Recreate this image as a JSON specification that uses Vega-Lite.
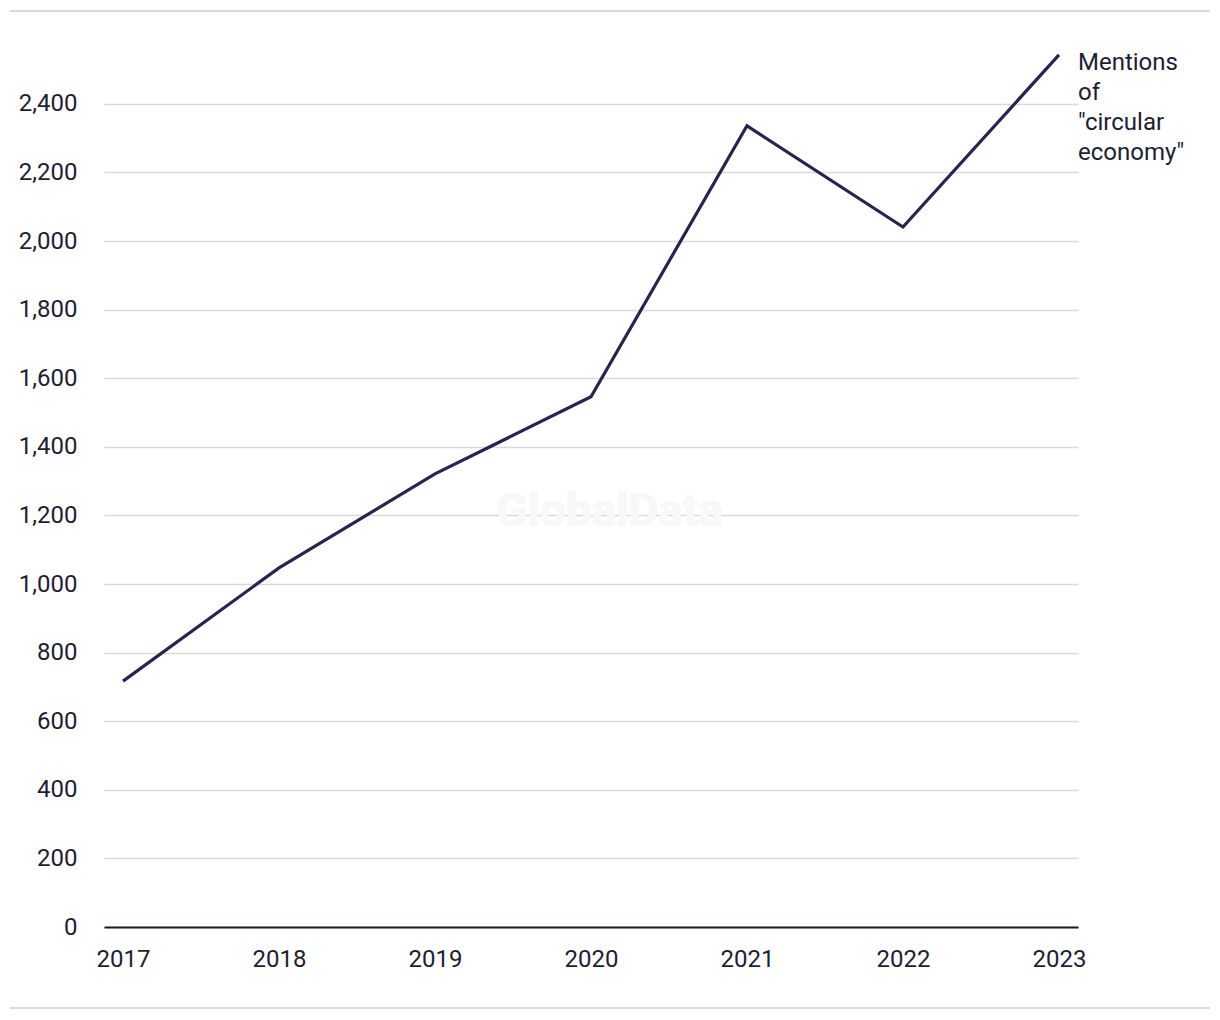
{
  "$schema": "https://vega.github.io/schema/vega-lite/v6.json",
  "autosize": "none",
  "width": 974,
  "height": 878,
  "padding": {"left": 104, "top": 49, "right": 142, "bottom": 93},
  "background": "#ffffff",
  "config": {
    "view": {"stroke": null},
    "font": "Roboto",
    "text": {"font": "Roboto"},
    "axis": {"labelFont": "Roboto", "labelFontSize": 24, "labelColor": "#1e1d33", "title": null}
  },
  "data": {
    "values": [
      {"year": 2017, "mentions": 717, "label": ""},
      {"year": 2018, "mentions": 1047, "label": ""},
      {"year": 2019, "mentions": 1321, "label": ""},
      {"year": 2020, "mentions": 1546, "label": ""},
      {"year": 2021, "mentions": 2336, "label": ""},
      {"year": 2022, "mentions": 2041, "label": ""},
      {"year": 2023, "mentions": 2543, "label": "Mentions\nof\n\"circular\neconomy\""}
    ]
  },
  "layer": [
    {
      "mark": {"type": "text", "text": "GlobalData", "fontSize": 46, "fontWeight": "bold", "color": "#f8f8f8", "font": "Roboto"},
      "encoding": {
        "x": {"datum": 2020.12, "type": "quantitative", "scale": {"domain": [2016.878, 2023.122], "nice": false, "zero": false},
          "axis": {"values": [2017, 2018, 2019, 2020, 2021, 2022, 2023], "format": "d", "grid": false, "ticks": false, "tickSize": 0, "labelPadding": 20, "domainColor": "#1a1a2e", "domainWidth": 2.2, "labelFlush": false}},
        "y": {"datum": 1210, "type": "quantitative", "scale": {"domain": [0, 2560], "nice": false},
          "axis": {"values": [0, 200, 400, 600, 800, 1000, 1200, 1400, 1600, 1800, 2000, 2200, 2400], "format": ",.0f", "grid": true, "domain": false, "ticks": false, "tickSize": 0, "labelPadding": 27, "gridColor": "#d9d9d9", "gridWidth": 1.6}}
      }
    },
    {
      "mark": {"type": "line", "color": "#26254d", "strokeWidth": 3.2, "strokeJoin": "miter"},
      "encoding": {
        "x": {"field": "year", "type": "quantitative"},
        "y": {"field": "mentions", "type": "quantitative"}
      }
    },
    {
      "mark": {"type": "text", "align": "left", "baseline": "top", "dx": 19, "dy": -4, "fontSize": 24, "lineHeight": 30, "lineBreak": "\n", "color": "#1e1d33"},
      "encoding": {
        "x": {"field": "year", "type": "quantitative"},
        "y": {"field": "mentions", "type": "quantitative"},
        "text": {"field": "label"}
      }
    },
    {
      "mark": {"type": "rule", "color": "#d9d9d9", "strokeWidth": 2},
      "encoding": {
        "x": {"datum": 2016.276, "type": "quantitative"},
        "x2": {"datum": 2023.968},
        "y": {"datum": 2671, "type": "quantitative"}
      }
    },
    {
      "mark": {"type": "rule", "color": "#d9d9d9", "strokeWidth": 2},
      "encoding": {
        "x": {"datum": 2016.276, "type": "quantitative"},
        "x2": {"datum": 2023.968},
        "y": {"datum": -236, "type": "quantitative"}
      }
    }
  ]
}
